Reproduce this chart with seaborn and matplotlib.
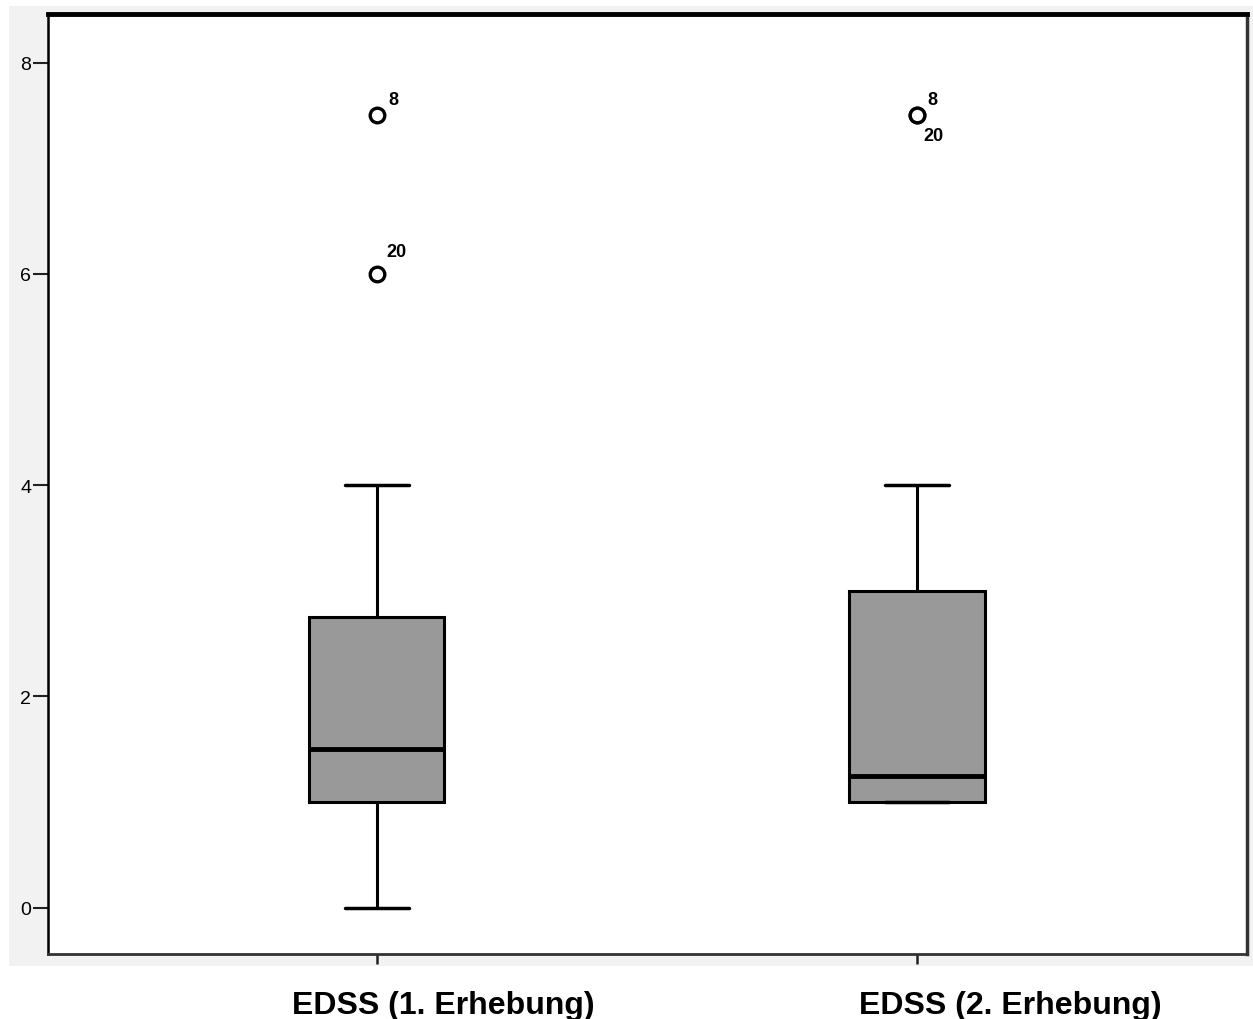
import matplotlib
matplotlib.use("Agg")
import matplotlib.pyplot as plt
import matplotlib.transforms as mtransforms
import seaborn as sns
from matplotlib.patches import Rectangle

# ---- data ----
categories = ["EDSS (1. Erhebung)", "EDSS (2. Erhebung)"]
whisker_low = [0.0, 1.0]
q1 = [1.0, 1.0]
median = [1.5, 1.25]
q3 = [2.75, 3.0]
whisker_high = [4.0, 4.0]
outlier_values = [[7.5, 6.0], [7.5, 7.5]]
outlier_ids = [["8", "20"], ["8", "20"]]

# label offsets in pixels (style only)
label_offsets = [[(16, 16), (20, 22)], [(15, 16), (16, -20)]]
category_label_shift_in = [0.66, 0.93]

sns.set_style("white")
plt.rcParams["font.family"] = ["Liberation Sans", "DejaVu Sans"]
plt.rcParams["text.color"] = "black"
plt.rcParams["xtick.color"] = "black"
plt.rcParams["ytick.color"] = "black"

fig = plt.figure(figsize=(12.53, 10.20), dpi=100)
W, H = 1253, 1020
bg = Rectangle((9 / W, (H - 967) / H), (W - 9) / W, (967 - 7) / H,
               transform=fig.transFigure, facecolor="#f2f2f2",
               edgecolor="none", zorder=-10)
fig.patches.append(bg)
ax = fig.add_axes([48 / W, (H - 955) / H, 1199 / W, 940 / H])
ax.set_zorder(1)
ax.set_facecolor("white")

stats = []
for i in range(len(categories)):
    stats.append(dict(med=median[i], q1=q1[i], q3=q3[i],
                      whislo=whisker_low[i], whishi=whisker_high[i],
                      fliers=outlier_values[i], label=categories[i]))

ax.bxp(stats, positions=list(range(len(categories))), widths=0.25,
       patch_artist=True, showfliers=True, capwidths=0.12,
       boxprops=dict(facecolor="#999999", edgecolor="black", linewidth=2.2),
       medianprops=dict(color="black", linewidth=3.5),
       whiskerprops=dict(color="black", linewidth=2.2),
       capprops=dict(color="black", linewidth=2.5),
       flierprops=dict(marker="o", markersize=10.5, markerfacecolor="white",
                       markeredgecolor="black", markeredgewidth=2.4))

for i in range(len(categories)):
    for v, lab, off in zip(outlier_values[i], outlier_ids[i], label_offsets[i]):
        ax.annotate(lab, xy=(i, v), xytext=(off[0] * 0.72, off[1] * 0.72),
                    textcoords="offset points", ha="center", va="center",
                    fontsize=13, fontweight="bold", color="black")

ax.set_xlim(-0.609, 1.611)
ax.set_ylim(-0.44, 8.46)
ax.set_yticks([0, 2, 4, 6, 8])
ax.set_yticklabels(["0", "2", "4", "6", "8"], fontsize=14)
ax.set_xticks(range(len(categories)))
ax.set_xticklabels(categories, fontsize=23, fontweight="bold")
ax.tick_params(axis="y", left=True, length=11, width=1.5, color="#222222",
               labelcolor="black", pad=1)
ax.tick_params(axis="x", bottom=True, length=7, width=1.8, color="#222222",
               labelcolor="black", pad=19)
ax.grid(False)

# SPSS places the category labels a bit to the right of the tick
for lbl, s in zip(ax.get_xticklabels(), category_label_shift_in):
    shift = mtransforms.ScaledTranslation(s, 0, fig.dpi_scale_trans)
    lbl.set_transform(lbl.get_transform() + shift)

for side, lw, col in [("top", 3.5, "black"), ("left", 1.8, "black"),
                      ("bottom", 2.0, "#333333"), ("right", 2.5, "#333333")]:
    ax.spines[side].set_visible(True)
    ax.spines[side].set_linewidth(lw)
    ax.spines[side].set_color(col)

fig.savefig("out.png", dpi=100, facecolor="white")
